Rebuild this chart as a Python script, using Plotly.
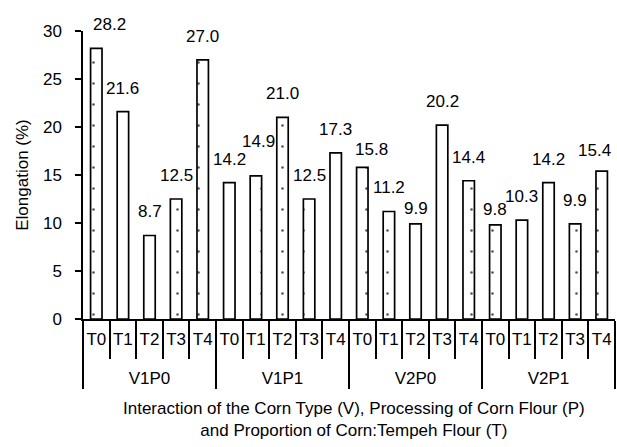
import plotly.graph_objects as go

# ---- data ----
groups = ["V1P0", "V1P1", "V2P0", "V2P1"]
treatments = ["T0", "T1", "T2", "T3", "T4"]
elongation = [28.2, 21.6, 8.7, 12.5, 27.0,
              14.2, 14.9, 21.0, 12.5, 17.3,
              15.8, 11.2, 9.9, 20.2, 14.4,
              9.8, 10.3, 14.2, 9.9, 15.4]
value_labels = ["28.2", "21.6", "8.7", "12.5", "27.0",
                "14.2", "14.9", "21.0", "12.5", "17.3",
                "15.8", "11.2", "9.9", "20.2", "14.4",
                "9.8", "10.3", "14.2", "9.9", "15.4"]
y_ticks = [0, 5, 10, 15, 20, 25, 30]

# ---- label nudges (style, px) ----
label_dx = [13, 0, 0, 0, 0, 0, 3, 0, 0, 0, 9, 0, 0, 0, 0, 0, 0, 0, 0, -7]
label_dy = [0, 0, 0, 0, 0, 0, 11, 0, 0, 0, -6, 0, -8, 0, 0, -8, 0, 0, 0, -3]

x_group = [g for g in groups for t in treatments]
# the trailing non-breaking-space line reserves room so the group row sits lower
x_treat = [t + "<br>\u00a0" for g in groups for t in treatments]

FONT = "Liberation Sans, Arial, sans-serif"

fig = go.Figure(go.Bar(
    x=[x_group, x_treat], y=elongation, width=0.43,
    marker=dict(color="white", line=dict(color="black", width=1.7),
                pattern=dict(shape=".", fgcolor="#555555", bgcolor="white",
                             size=21, solidity=0.012, fillmode="replace")),
    hoverinfo="y",
))

for i, (v, lab) in enumerate(zip(elongation, value_labels)):
    fig.add_annotation(x=i, y=v, xref="x", yref="y", text=lab, showarrow=False,
                       yanchor="bottom", xanchor="center",
                       xshift=label_dx[i], yshift=12 + label_dy[i],
                       font=dict(family=FONT, size=17, color="black"))

fig.add_annotation(xref="paper", yref="paper", x=0.5, y=0, xshift=5, yshift=-78,
                   yanchor="top", xanchor="center", showarrow=False,
                   text="Interaction of the Corn Type (V), Processing of Corn Flour (P)<br>and Proportion of Corn:Tempeh Flour (T)",
                   font=dict(family=FONT, size=17, color="black"))

fig.update_layout(
    width=617, height=447,
    margin=dict(l=83, r=2, t=31, b=128),
    plot_bgcolor="white", paper_bgcolor="white",
    font=dict(family=FONT, size=17, color="black"),
    showlegend=False,
)
fig.update_xaxes(
    type="multicategory", showline=True, linecolor="black", linewidth=1.5,
    ticks="outside", tickson="boundaries", ticklen=38, tickcolor="black", tickwidth=1.5,
    ticklabelstandoff=4, tickangle=0,
    showdividers=True, dividercolor="black", dividerwidth=1.5,
    showgrid=False, zeroline=False, automargin=False,
)
fig.update_yaxes(
    range=[0, 30], tickvals=y_ticks, showline=True, linecolor="black", linewidth=1.5,
    ticks="outside", ticklen=6, tickcolor="black", tickwidth=1.5,
    ticklabelstandoff=10,
    showgrid=False, zeroline=False, automargin=False,
    title=dict(text="Elongation (%)", standoff=10, font=dict(family=FONT, size=17)),
)

fig.write_html("out.html", config={"displayModeBar": False},
               post_script="document.body.style.margin='0px';")
